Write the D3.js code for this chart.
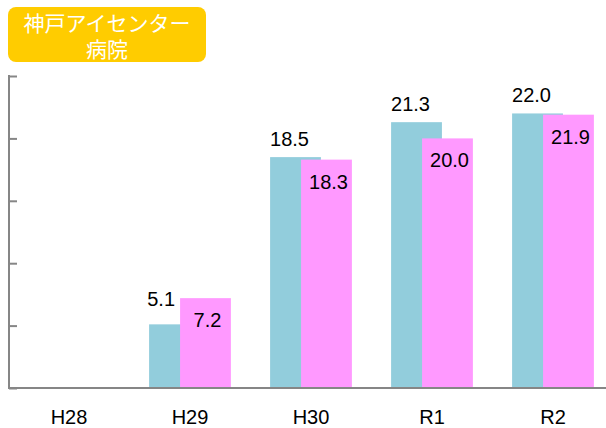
<!DOCTYPE html>
<html>
<head>
<meta charset="utf-8">
<script src="https://cdn.jsdelivr.net/npm/d3@7"></script>
<style>
  html, body { margin: 0; padding: 0; background: #ffffff; }
  svg { display: block; }
</style>
</head>
<body>
<svg id="chart" width="606" height="428"></svg>
<script>
// Fiscal years (Heisei / Reiwa) and the two series per year
const categories = ["H28", "H29", "H30", "R1", "R2"];
const seriesA = [null, 5.1, 18.5, 21.3, 22.0];
const seriesB = [null, 7.2, 18.3, 20.0, 21.9];
const yTicks = [0, 5, 10, 15, 20, 25];
const titleLines = ["神戸アイセンター", "病院"];

const colorA = "#92CDDC";
const colorB = "#FF99FF";
const axisColor = "#868686";
const labelFont = "'Liberation Sans', Arial, sans-serif";

const svg = d3.select("#chart");

const x = d3.scaleBand()
  .domain(categories)
  .range([8.5, 613.5])
  .paddingInner(0)
  .paddingOuter(0);

const y = d3.scaleLinear()
  .domain([0, 25])
  .range([388, 76]);

const bw = x.bandwidth();
const barW = bw * 0.42;
const shift = bw * 0.256;
const groupW = barW + shift;

const rows = categories.map((c, i) => ({ cat: c, a: seriesA[i], b: seriesB[i] }))
  .filter(d => d.a != null);

const cx = d => x(d.cat) + bw / 2;
const xA = d => cx(d) - groupW / 2;
const xB = d => xA(d) + shift;

// Bars: first series behind, second series overlapping on top
svg.append("g").selectAll("rect")
  .data(rows).join("rect")
  .attr("x", xA)
  .attr("y", d => y(d.a))
  .attr("width", barW)
  .attr("height", d => y(0) - y(d.a))
  .attr("fill", colorA);

svg.append("g").selectAll("rect")
  .data(rows).join("rect")
  .attr("x", xB)
  .attr("y", d => y(d.b))
  .attr("width", barW)
  .attr("height", d => y(0) - y(d.b))
  .attr("fill", colorB);

// Y axis with inward ticks, no tick labels
const yAxis = d3.axisRight(y).tickValues(yTicks).tickSize(8).tickFormat("");
const gy = svg.append("g").attr("transform", "translate(9,0)").call(yAxis);
gy.select(".domain").remove();
gy.selectAll(".tick line").attr("stroke", axisColor).attr("stroke-width", 2);
svg.append("line")
  .attr("x1", 9).attr("x2", 9)
  .attr("y1", y(25) - 1).attr("y2", y(0) + 1)
  .attr("stroke", axisColor).attr("stroke-width", 2);

// Baseline
svg.append("line")
  .attr("x1", 8).attr("x2", 606)
  .attr("y1", y(0)).attr("y2", y(0))
  .attr("stroke", axisColor).attr("stroke-width", 2);

// Category labels
const xAxis = d3.axisBottom(x).tickSize(0).tickPadding(0);
const gx = svg.append("g").call(xAxis);
gx.select(".domain").remove();
gx.selectAll(".tick text")
  .attr("y", 424).attr("dy", null)
  .attr("font-family", labelFont)
  .attr("font-size", 20)
  .attr("fill", "#000");

// Value labels for the first series: above the bar, shifted clear of the
// overlapping bar when that one is taller
svg.append("g").selectAll("text")
  .data(rows).join("text")
  .attr("x", d => d.b > d.a ? xB(d) - 5 : cx(d) - groupW / 2 + barW / 2 - 6)
  .attr("y", d => d.b > d.a ? y(d.b) + 8 : y(d.a) - 11)
  .attr("text-anchor", d => d.b > d.a ? "end" : "middle")
  .attr("font-family", labelFont)
  .attr("font-size", 20)
  .attr("fill", "#000")
  .text(d => d3.format(".1f")(d.a));

// Value labels for the second series: inside the top of the bar
svg.append("g").selectAll("text")
  .data(rows).join("text")
  .attr("x", d => xB(d) + barW / 2 + 2)
  .attr("y", d => y(d.b) + 29)
  .attr("text-anchor", "middle")
  .attr("font-family", labelFont)
  .attr("font-size", 20)
  .attr("fill", "#000")
  .text(d => d3.format(".1f")(d.b));

// Title badge
const title = svg.append("g");
title.append("rect")
  .attr("x", 8).attr("y", 7)
  .attr("width", 198).attr("height", 55)
  .attr("rx", 8).attr("ry", 8)
  .attr("fill", "#FFCC00");
title.append("text")
  .attr("text-anchor", "middle")
  .attr("font-family", "'Noto Sans CJK JP', 'Noto Sans', sans-serif")
  .attr("font-size", 21)
  .attr("fill", "#ffffff")
  .selectAll("tspan")
  .data(titleLines).join("tspan")
  .attr("x", 107)
  .attr("y", (d, i) => i === 0 ? 31 : 57)
  .text(d => d);
</script>
</body>
</html>
